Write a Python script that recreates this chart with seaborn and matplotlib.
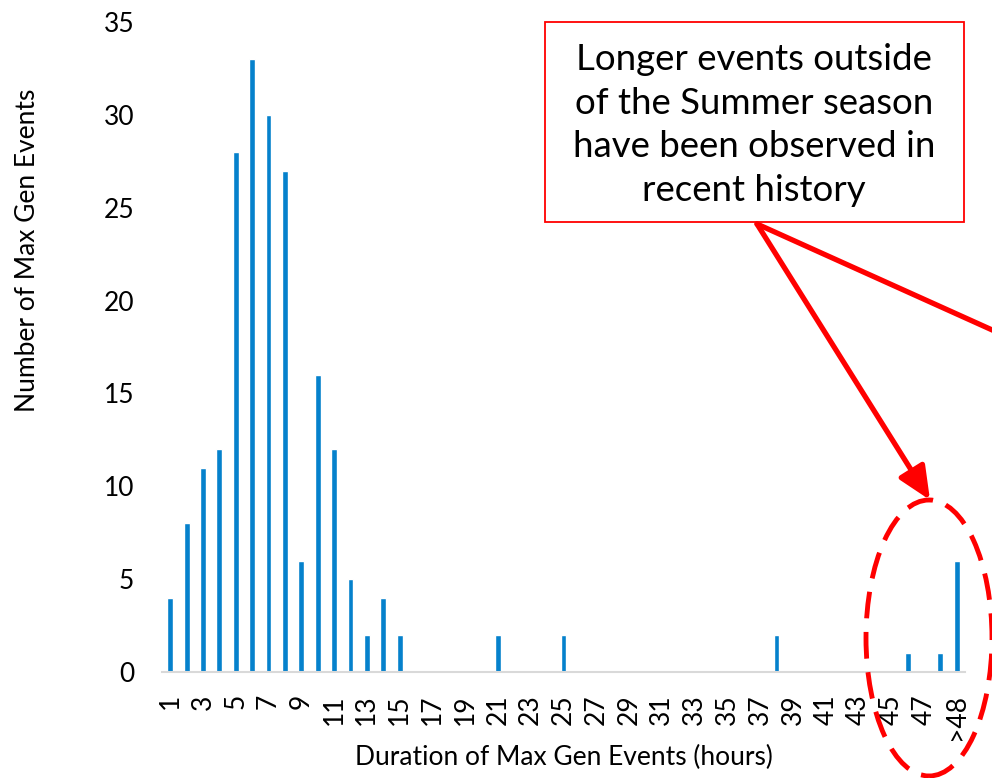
import matplotlib
matplotlib.use("Agg")
import matplotlib.pyplot as plt
from matplotlib.patches import Ellipse, Rectangle, FancyArrowPatch
from matplotlib.lines import Line2D
import seaborn as sns, pandas as pd

# durations 1..48 plus ">48"
durations = [str(i) for i in range(1, 49)] + [">48"]
# number of events per duration (zeros where no bar)
counts = [4, 8, 11, 12, 28, 33, 30, 27, 6, 16,
          12, 5, 2, 4, 2, 0, 0, 0, 0, 0,
          2, 0, 0, 0, 2, 0, 0, 0, 0, 0,
          0, 0, 0, 0, 0, 0, 0, 2, 0, 0,
          0, 0, 0, 0, 0, 1, 0, 1, 6]
tick_labels = [d if i % 2 == 0 else "" for i, d in enumerate(durations)]
note = "Longer events outside\nof the Summer season\nhave been observed in\nrecent history"

df = pd.DataFrame({"Duration": durations, "Count": counts})

sns.set_style("white")
plt.rcParams['font.family'] = ['Lato', 'DejaVu Sans']

fig = plt.figure(figsize=(9.92, 7.78), dpi=100)
ax = fig.add_axes([162/992, 1-672/778, 803/992, 650/778])

sns.barplot(data=df, x="Duration", y="Count", order=durations, color="#0581CC",
            saturation=1, width=0.36, ax=ax)

ax.set_xlim(-0.5, len(durations) - 0.5)
ax.set_ylim(0, 35)
ax.set_yticks(range(0, 36, 5))
ax.set_xticks(range(len(durations)))
ax.set_xticklabels(tick_labels, rotation=90)
ax.tick_params(axis='x', length=0, pad=16, labelsize=19, colors="#000000")
ax.tick_params(axis='y', length=0, pad=20, labelsize=19, colors="#000000")

for s in ["top", "right", "left"]:
    ax.spines[s].set_visible(False)
ax.spines["bottom"].set_color("#D9D9D9")
ax.spines["bottom"].set_linewidth(1.5)

ax.set_xlabel("Duration of Max Gen Events (hours)", fontsize=19, color="#000000")
ax.set_ylabel("Number of Max Gen Events", fontsize=19, color="#000000")
ax.xaxis.set_label_coords(0.5, -0.132)
ax.xaxis.label.set_va("center")
ax.yaxis.set_label_coords(-0.168, 0.648)
ax.yaxis.label.set_va("center")

# callout box
fig.patches.append(Rectangle((545/992, 1-222/778), 419/992, 200/778, transform=fig.transFigure,
                             fill=False, edgecolor="#FF0000", linewidth=1.3))
fig.text(754/992, 1-125/778, note, ha="center", va="center", fontsize=26.4,
         linespacing=1.4, color="#000000")

# arrows
start = (757/992, 1-224/778)
fig.patches.append(FancyArrowPatch(start, (930/992, 1-500/778), transform=fig.transFigure,
                                   arrowstyle="-|>,head_length=20,head_width=9",
                                   color="#FF0000", linewidth=3.8, shrinkA=0, shrinkB=0))
fig.lines.append(Line2D([start[0], 1010/992], [start[1], 1-338/778], transform=fig.transFigure,
                        color="#FF0000", linewidth=3.8))

# dashed ellipse
fig.patches.append(Ellipse((929/992, 1-638/778), 126/992, 276/778, transform=fig.transFigure,
                           fill=False, edgecolor="#FF0000", linewidth=3.5, linestyle=(0, (5.5, 2.8))))

fig.savefig("out.png", dpi=100)
